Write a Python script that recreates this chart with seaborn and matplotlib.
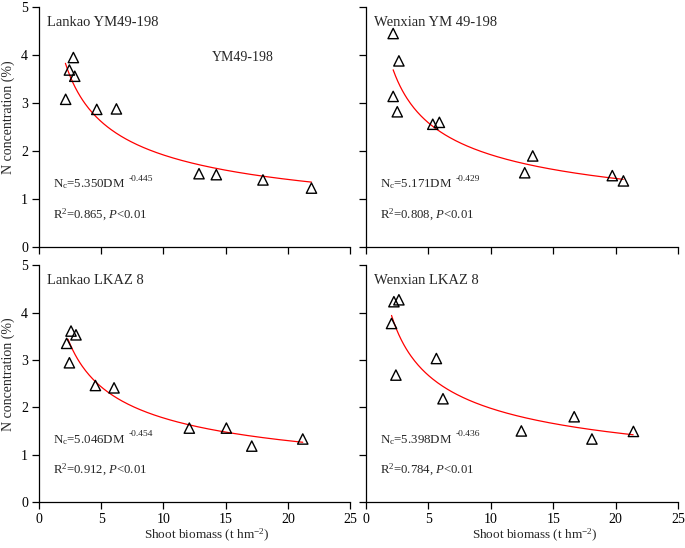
import numpy as np
import pandas as pd
import seaborn as sns
import matplotlib.pyplot as plt

sns.set_style('ticks')
plt.rcParams.update({
    'font.family': ['Liberation Serif', 'DejaVu Serif'],
    'mathtext.fontset': 'custom',
    'mathtext.rm': 'Liberation Serif',
    'mathtext.it': 'Liberation Serif:italic',
    'font.size': 10,
    'axes.edgecolor': 'black',
    'axes.linewidth': 0.9,
    'xtick.color': 'black',
    'ytick.color': 'black',
})

# values
panels = ['Lankao YM49-198', 'Wenxian YM 49-198', 'Lankao LKAZ 8', 'Wenxian LKAZ 8']

lk_ym_dm = [2.76, 2.44, 2.87, 2.14, 4.64, 6.22, 12.86, 14.25, 18.0, 21.9]
lk_ym_n = [3.95, 3.69, 3.56, 3.08, 2.87, 2.88, 1.53, 1.51, 1.40, 1.23]
wx_ym_dm = [2.19, 2.65, 2.19, 2.52, 5.36, 5.89, 12.72, 13.36, 19.73, 20.62]
wx_ym_n = [4.45, 3.88, 3.14, 2.82, 2.56, 2.60, 1.55, 1.90, 1.49, 1.38]
lk_lk_dm = [2.57, 2.97, 2.22, 2.44, 4.53, 6.03, 12.08, 15.06, 17.1, 21.2]
lk_lk_n = [3.61, 3.53, 3.35, 2.94, 2.46, 2.41, 1.56, 1.56, 1.18, 1.33]
wx_lk_dm = [2.25, 2.65, 2.06, 2.41, 5.65, 6.18, 12.45, 16.68, 18.1, 21.42]
wx_lk_n = [4.23, 4.27, 3.77, 2.68, 3.03, 2.18, 1.50, 1.80, 1.33, 1.49]

# fitted Nc = a * DM^-b, as printed in each panel
fit_a = [5.350, 5.171, 5.046, 5.398]
fit_b = [0.445, 0.429, 0.454, 0.436]
fit_r2 = [0.865, 0.808, 0.912, 0.784]
fit_from = [2.12, 2.19, 2.33, 2.06]
fit_to = [21.9, 20.6, 21.2, 21.4]

dm = [lk_ym_dm, wx_ym_dm, lk_lk_dm, wx_lk_dm]
nc = [lk_ym_n, wx_ym_n, lk_lk_n, wx_lk_n]

fig = plt.figure(figsize=(6.85, 5.48), dpi=100)
boxes = [
    [0.057, 0.549, 0.454, 0.438],
    [0.534, 0.549, 0.456, 0.438],
    [0.057, 0.084, 0.454, 0.432],
    [0.534, 0.084, 0.456, 0.432],
]

for i, name in enumerate(panels):
    ax = fig.add_axes(boxes[i])
    df = pd.DataFrame({'DM': dm[i], 'N': nc[i]})
    sns.scatterplot(data=df, x='DM', y='N', marker='^', s=55,
                    facecolor='none', edgecolor='black', linewidth=1.0,
                    ax=ax, zorder=3)

    xs = np.linspace(fit_from[i], fit_to[i], 200)
    curve = pd.DataFrame({'DM': xs, 'N': fit_a[i] * xs ** (-fit_b[i])})
    sns.lineplot(data=curve, x='DM', y='N', color='red', lw=0.9, ax=ax)

    ax.set_xlim(0, 25)
    ax.set_ylim(0, 5)
    ax.set_xticks(range(0, 26, 5))
    ax.set_yticks(range(0, 6))
    ax.tick_params(direction='out', length=5, width=0.9, labelsize=10, pad=3)
    sns.despine(ax=ax)

    ax.text(0.026, 0.935, name, transform=ax.transAxes, fontsize=10.5, va='center')
    eq = ax.text(0.045, 0.262, r'N$_\mathrm{c}$=%.3fDM' % fit_a[i],
                 transform=ax.transAxes, fontsize=9.3, va='center')
    # exponent written with a plain hyphen, as in the original
    ax.annotate('-%.3f' % fit_b[i], xy=(1, 0.62), xycoords=eq,
                xytext=(2.5, 0), textcoords='offset points',
                fontsize=6.8, va='bottom')
    ax.text(0.045, 0.135, r'R$^2$=%.3f, $\it{P}$<0.01' % fit_r2[i],
            transform=ax.transAxes, fontsize=9.2, va='center')

    if i == 0:
        ax.text(0.556, 0.79, 'YM49-198', transform=ax.transAxes, fontsize=10, va='center')

    if i % 2 == 0:
        ax.set_ylabel('N concentration (%)', fontsize=10)
        ax.yaxis.set_label_coords(-0.077, 0.54)
    else:
        ax.set_ylabel('')
        ax.set_yticklabels([])

    if i < 2:
        ax.set_xlabel('')
        ax.set_xticklabels([])
    else:
        ax.set_xlabel('Shoot biomass (t hm$^{-2}$)', fontsize=9.5)
        ax.xaxis.set_label_coords(0.54, -0.105)

fig.savefig('out.png', dpi=100)
